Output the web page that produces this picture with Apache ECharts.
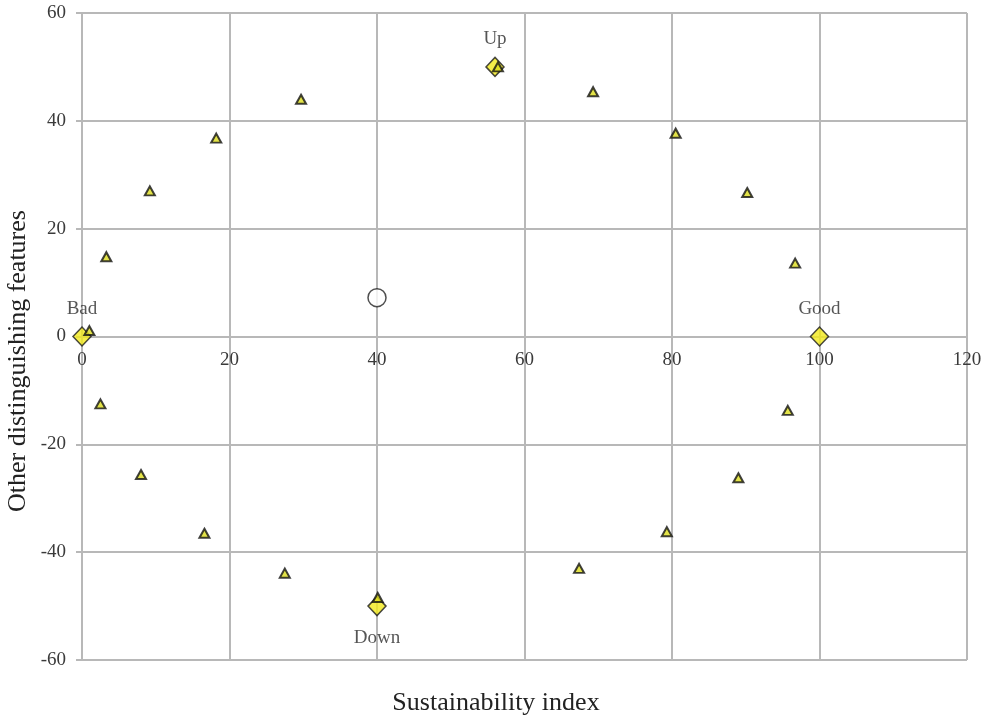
<!DOCTYPE html>
<html>
<head>
<meta charset="utf-8">
<script src="https://cdn.jsdelivr.net/npm/echarts@6/dist/echarts.min.js"></script>
<style>
  html, body { margin: 0; padding: 0; background: #fff; }
  #chart { width: 992px; height: 720px; }
</style>
</head>
<body>
<div id="chart"></div>
<script>
// Intermediate positions (triangles)
const triX = [1.0, 3.3, 9.2, 18.2, 29.7, 56.4, 69.3, 80.5, 90.2, 96.7,
              95.7, 89.0, 79.3, 67.4, 40.1, 27.5, 16.6, 8.0, 2.5];
const triY = [1.1, 14.8, 27.0, 36.8, 44.0, 50.0, 45.4, 37.7, 26.7, 13.6,
              -13.7, -26.2, -36.2, -43.0, -48.4, -43.9, -36.5, -25.6, -12.5];

// Reference anchors (diamonds)
const anchorNames = ['Bad', 'Up', 'Good', 'Down'];
const anchorX = [0, 56, 100, 40];
const anchorY = [0, 50, 0, -50];

// Evaluated position (circle)
const pointX = [40];
const pointY = [7.2];

// Axis ticks
const xTicks = { min: 0, max: 120, step: 20 };
const yTicks = { min: -60, max: 60, step: 20 };

const FONT = '"Liberation Serif", "DejaVu Serif", serif';
const GRID = '#b8b8b8';
const GRID_BOX = { left: 82, right: 25, top: 13, bottom: 60 };
const plotHeight = 720 - GRID_BOX.top - GRID_BOX.bottom;
// Horizontal axis sits on y = 0: shift it up from the bottom edge
const xAxisOffset = -plotHeight * (0 - yTicks.min) / (yTicks.max - yTicks.min);

const chart = echarts.init(document.getElementById('chart'));

const triData = triX.map((x, i) => [x, triY[i]]);
const anchorData = anchorX.map((x, i) => ({
  value: [x, anchorY[i]],
  name: anchorNames[i],
  label: anchorNames[i] === 'Down'
    ? { position: 'bottom', distance: 12 }
    : { position: 'top', distance: 8 }
}));
const pointData = pointX.map((x, i) => [x, pointY[i]]);

chart.setOption({
  animation: false,
  backgroundColor: '#ffffff',
  grid: Object.assign({ containLabel: false }, GRID_BOX),
  xAxis: {
    type: 'value',
    min: xTicks.min, max: xTicks.max, interval: xTicks.step,
    offset: xAxisOffset,
    axisLine: { show: true, onZero: false, lineStyle: { color: GRID, width: 2 } },
    axisTick: { show: false },
    axisLabel: { fontFamily: FONT, fontSize: 19, color: '#3a3a3a', margin: 14 },
    splitLine: { show: true, lineStyle: { color: GRID, width: 2 } }
  },
  yAxis: {
    type: 'value',
    min: yTicks.min, max: yTicks.max, interval: yTicks.step,
    axisLine: { show: true, onZero: false, lineStyle: { color: GRID, width: 2 } },
    axisTick: { show: true, length: 6, lineStyle: { color: GRID, width: 2 } },
    axisLabel: { fontFamily: FONT, fontSize: 19, color: '#3a3a3a', margin: 16 },
    splitLine: { show: true, lineStyle: { color: GRID, width: 2 } }
  },
  series: [
    {
      name: 'anchors',
      type: 'scatter',
      symbol: 'diamond',
      symbolSize: [18, 19],
      z: 2,
      itemStyle: { color: '#f2ea1c', borderColor: '#1a1a1a', borderWidth: 1.5 },
      label: {
        show: true,
        formatter: p => p.name,
        fontFamily: FONT,
        fontSize: 19,
        color: '#2a2a2a'
      },
      data: anchorData
    },
    {
      name: 'path',
      type: 'scatter',
      symbol: 'triangle',
      symbolSize: [10, 9],
      z: 3,
      itemStyle: { color: '#dcdc1c', borderColor: '#111', borderWidth: 2 },
      data: triData
    },
    {
      name: 'current',
      type: 'scatter',
      symbol: 'circle',
      symbolSize: 18,
      z: 3,
      itemStyle: { color: '#ffffff', borderColor: '#222', borderWidth: 1.5 },
      data: pointData
    }
  ],
  graphic: [
    {
      type: 'text',
      x: 18, y: 361,
      rotation: Math.PI / 2,
      style: {
        text: 'Other distinguishing features',
        fontFamily: FONT, fontSize: 26, fill: '#222',
        align: 'center', verticalAlign: 'middle'
      }
    },
    {
      type: 'text',
      x: 496, y: 703,
      style: {
        text: 'Sustainability index',
        fontFamily: FONT, fontSize: 26, fill: '#222',
        align: 'center', verticalAlign: 'middle'
      }
    }
  ]
});
</script>
</body>
</html>
